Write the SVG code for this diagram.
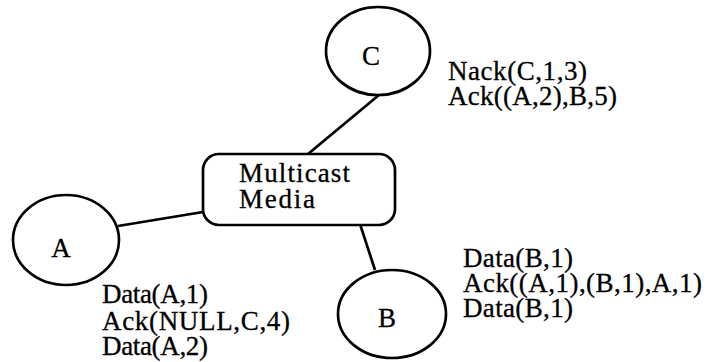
<svg xmlns="http://www.w3.org/2000/svg" width="711" height="362" viewBox="0 0 711 362">
<style>
.shape{fill:#fff;stroke:#000;stroke-width:2.7}
.edge{stroke:#000;stroke-width:2.7;fill:none}
text{font-family:"Liberation Serif","Times New Roman",serif;font-size:27px;fill:#000;stroke:#000;stroke-width:0.3}
.mid{text-anchor:middle}
</style>
<rect width="711" height="362" fill="#fff"/>
<g id="connectors">
<line class="edge" x1="308" y1="154" x2="379" y2="95"/>
<line class="edge" x1="118" y1="226" x2="203" y2="212"/>
<line class="edge" x1="360" y1="224" x2="375" y2="270"/>
</g>
<g id="node-C">
<ellipse class="shape" cx="378" cy="51" rx="52" ry="44"/>
<text class="mid" x="371" y="65">C</text>
</g>
<g id="node-media">
<rect class="shape" x="203" y="154" width="192" height="71" rx="16" ry="16"/>
<text x="239" y="182" textLength="111" lengthAdjust="spacing">Multicast</text>
<text x="239" y="208" textLength="76" lengthAdjust="spacing">Media</text>
</g>
<g id="node-A">
<ellipse class="shape" cx="66" cy="240" rx="53" ry="45"/>
<text class="mid" x="61" y="257">A</text>
</g>
<g id="node-B">
<ellipse class="shape" cx="392" cy="314" rx="54" ry="44"/>
<text class="mid" x="387" y="327">B</text>
</g>
<g id="labels">
<text x="448" y="80" textLength="139" lengthAdjust="spacing">Nack(C,1,3)</text>
<text x="448" y="105" textLength="169" lengthAdjust="spacing">Ack((A,2),B,5)</text>
<text x="102" y="303" textLength="106" lengthAdjust="spacing">Data(A,1)</text>
<text x="102" y="330" textLength="188" lengthAdjust="spacing">Ack(NULL,C,4)</text>
<text x="102" y="355" textLength="106" lengthAdjust="spacing">Data(A,2)</text>
<text x="463" y="267" textLength="110" lengthAdjust="spacing">Data(B,1)</text>
<text x="463" y="292" textLength="239" lengthAdjust="spacing">Ack((A,1),(B,1),A,1)</text>
<text x="463" y="317" textLength="110" lengthAdjust="spacing">Data(B,1)</text>
</g>
</svg>
